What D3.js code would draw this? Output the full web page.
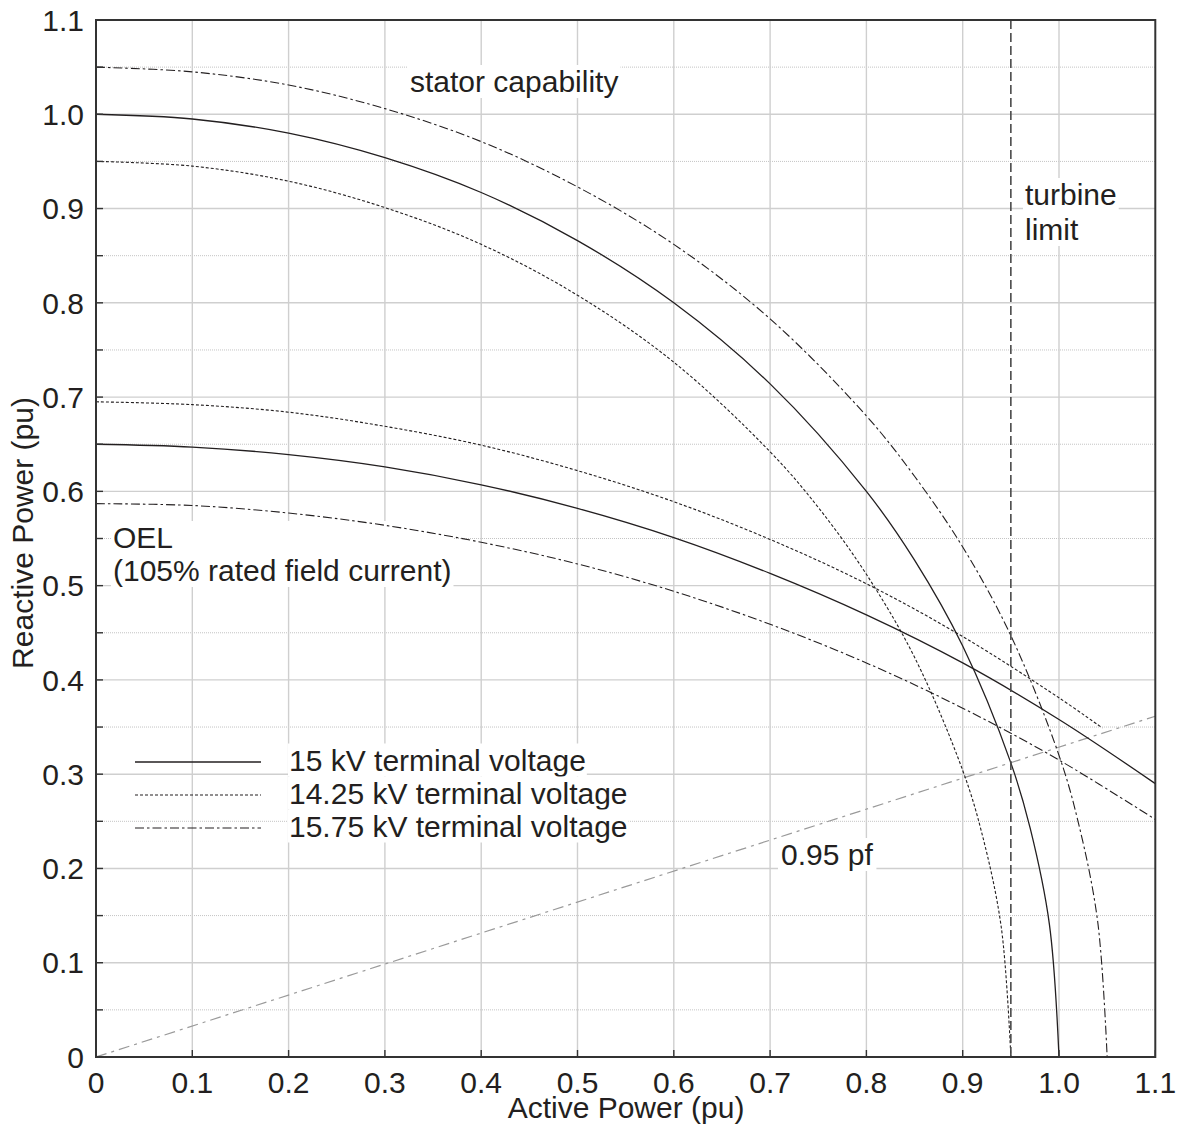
<!DOCTYPE html>
<html>
<head>
<meta charset="utf-8">
<script src="https://cdn.jsdelivr.net/npm/d3@7"></script>
<style>
  html, body { margin: 0; padding: 0; background: #fff; }
  svg { display: block; }
  text { font-family: "Liberation Sans", Arial, Helvetica, sans-serif; fill: #231f20; }
</style>
</head>
<body>
<svg id="chart" width="1181" height="1130"></svg>
<script>
// Generator capability curves (per-unit active vs reactive power)

// Stator current limit at 15 kV (active P, reactive Q)
const stator15 = [[0,1.0],[0.1,0.995],[0.2,0.980],[0.3,0.954],[0.4,0.917],[0.5,0.866],[0.6,0.800],[0.7,0.714],[0.8,0.600],[0.85,0.527],[0.9,0.436],[0.95,0.312],[0.97,0.243],[0.99,0.141],[1.0,0]];
// Stator current limit at 14.25 kV
const stator1425 = [[0,0.950],[0.1,0.945],[0.2,0.929],[0.3,0.901],[0.4,0.862],[0.5,0.808],[0.6,0.737],[0.7,0.642],[0.75,0.583],[0.8,0.512],[0.85,0.424],[0.9,0.304],[0.92,0.237],[0.94,0.138],[0.95,0]];
// Stator current limit at 15.75 kV
const stator1575 = [[0,1.050],[0.1,1.045],[0.2,1.031],[0.3,1.006],[0.4,0.971],[0.5,0.923],[0.6,0.862],[0.7,0.783],[0.8,0.680],[0.85,0.616],[0.9,0.541],[0.95,0.447],[1.0,0.320],[1.02,0.249],[1.04,0.145],[1.05,0]];

// Over-excitation limit (105% rated field current)
const oel15 = [[0,0.650],[0.1,0.647],[0.2,0.639],[0.3,0.626],[0.4,0.607],[0.5,0.582],[0.6,0.551],[0.7,0.513],[0.8,0.469],[0.9,0.418],[1.0,0.358],[1.1,0.290]];
const oel1425 = [[0,0.695],[0.1,0.692],[0.2,0.684],[0.3,0.669],[0.4,0.649],[0.5,0.622],[0.6,0.589],[0.7,0.549],[0.8,0.502],[0.9,0.446],[1.0,0.381],[1.045,0.349]];
const oel1575 = [[0,0.587],[0.1,0.585],[0.2,0.577],[0.3,0.564],[0.4,0.546],[0.5,0.523],[0.6,0.494],[0.7,0.459],[0.8,0.418],[0.9,0.370],[1.0,0.315],[1.1,0.252]];

// 0.95 power factor line and turbine limit
const pfLine = [[0,0],[1.1,0.3615]];
const turbineLimitP = 0.95;

// Axis ticks
const xTicks = [0,0.1,0.2,0.3,0.4,0.5,0.6,0.7,0.8,0.9,1.0,1.1];
const xTickLabels = ["0","0.1","0.2","0.3","0.4","0.5","0.6","0.7","0.8","0.9","1.0","1.1"];
const yTicks = [0,0.1,0.2,0.3,0.4,0.5,0.6,0.7,0.8,0.9,1.0,1.1];
const yTickLabels = ["0","0.1","0.2","0.3","0.4","0.5","0.6","0.7","0.8","0.9","1.0","1.1"];
const yMinorTicks = [0.05,0.15,0.25,0.35,0.45,0.55,0.65,0.75,0.85,0.95,1.05];

const legendItems = ["15 kV terminal voltage","14.25 kV terminal voltage","15.75 kV terminal voltage"];

const svg = d3.select("#chart");
const pLeft = 96, pRight = 1155.3, pTop = 20, pBottom = 1057;

const x = d3.scaleLinear().domain([0, 1.1]).range([pLeft, pRight]);
const y = d3.scaleLinear().domain([0, 1.1]).range([pBottom, pTop]);

const styles = {
  solid:   { stroke: "#231f20", width: 1.3, dash: null },
  dotted:  { stroke: "#231f20", width: 1.1, dash: "3,2" },
  dashdot: { stroke: "#231f20", width: 1.1, dash: "9,3,2.5,3" }
};

svg.append("defs").append("clipPath").attr("id", "plotClip")
  .append("rect").attr("x", pLeft).attr("y", pTop).attr("width", pRight - pLeft).attr("height", pBottom - pTop);

// Grid: minor dotted horizontal lines, then major solid lines
const grid = svg.append("g");
grid.selectAll("line.minor").data(yMinorTicks).join("line")
  .attr("x1", pLeft).attr("x2", pRight)
  .attr("y1", d => y(d)).attr("y2", d => y(d))
  .attr("stroke", "#c4c4c4").attr("stroke-width", 1).attr("stroke-dasharray", "1,1");
grid.selectAll("line.hmaj").data(yTicks.slice(1, -1)).join("line")
  .attr("x1", pLeft).attr("x2", pRight)
  .attr("y1", d => y(d)).attr("y2", d => y(d))
  .attr("stroke", "#cfcfcf").attr("stroke-width", 1.4);
grid.selectAll("line.vmaj").data(xTicks.slice(1, -1)).join("line")
  .attr("y1", pTop).attr("y2", pBottom)
  .attr("x1", d => x(d)).attr("x2", d => x(d))
  .attr("stroke", "#cfcfcf").attr("stroke-width", 1.4);

// Text labels sit on white boxes that mask the grid
function boxedText(g, lines, tx, baseline, lineGap, pad) {
  const grp = g.append("g");
  const rect = grp.append("rect").attr("fill", "#fff");
  const t = grp.append("text").attr("font-size", 30);
  lines.forEach((s, i) => {
    t.append("tspan").attr("x", tx).attr("y", baseline + i * lineGap).text(s);
  });
  const bb = t.node().getBBox();
  rect.attr("x", bb.x - pad).attr("y", bb.y).attr("width", bb.width + 2 * pad).attr("height", bb.height);
  return grp;
}

const line = d3.line().x(d => x(d[0])).y(d => y(d[1])).curve(d3.curveCatmullRom.alpha(0.5));

// 0.95 pf line (beneath the labels)
const under = svg.append("g").attr("clip-path", "url(#plotClip)");
under.append("path").datum(pfLine).attr("d", d3.line().x(d => x(d[0])).y(d => y(d[1])))
  .attr("fill", "none").attr("stroke", "#9a9a9a").attr("stroke-width", 1.2)
  .attr("stroke-dasharray", "11,5,3,5");

// Labels with white boxes
const labels = svg.append("g");
boxedText(labels, ["stator capability"], 410, 92, 0, 2);
boxedText(labels, ["turbine", "limit"], 1025, 205, 35, 2);
boxedText(labels, ["OEL", "(105% rated field current)"], 113, 548, 33, 2);
boxedText(labels, ["0.95 pf"], 781, 865, 0, 3);

// Capability curves on top of the labels
const plot = svg.append("g").attr("clip-path", "url(#plotClip)");
const curves = [
  [stator15, "solid"], [stator1425, "dotted"], [stator1575, "dashdot"],
  [oel15, "solid"], [oel1425, "dotted"], [oel1575, "dashdot"]
];
curves.forEach(([data, s]) => {
  const st = styles[s];
  plot.append("path").datum(data).attr("d", line)
    .attr("fill", "none").attr("stroke", st.stroke).attr("stroke-width", st.width)
    .attr("stroke-dasharray", st.dash);
});

// Turbine limit
plot.append("line")
  .attr("x1", x(turbineLimitP)).attr("x2", x(turbineLimitP))
  .attr("y1", pTop).attr("y2", pBottom)
  .attr("stroke", "#4a4a4a").attr("stroke-width", 1.6).attr("stroke-dasharray", "9,4");

// Legend
const legend = svg.append("g");
legendItems.forEach((label, i) => {
  const st = styles[["solid", "dotted", "dashdot"][i]];
  const ly = 762 + i * 33;
  legend.append("line").attr("x1", 135).attr("x2", 261).attr("y1", ly).attr("y2", ly)
    .attr("stroke", st.stroke).attr("stroke-width", st.width).attr("stroke-dasharray", st.dash);
  boxedText(legend, [label], 289, ly + 8.5, 0, 1);
});

// Axes and ticks
const axes = svg.append("g");
axes.selectAll("line.ytick").data(yTicks.concat(yMinorTicks)).join("line")
  .attr("x1", pLeft).attr("x2", pLeft + 7)
  .attr("y1", d => y(d)).attr("y2", d => y(d))
  .attr("stroke", "#333").attr("stroke-width", 1.4);
axes.selectAll("line.xtick").data(xTicks).join("line")
  .attr("x1", d => x(d)).attr("x2", d => x(d))
  .attr("y1", pBottom).attr("y2", pBottom - 7)
  .attr("stroke", "#333").attr("stroke-width", 1.4);
axes.append("rect").attr("x", pLeft).attr("y", pTop)
  .attr("width", pRight - pLeft).attr("height", pBottom - pTop)
  .attr("fill", "none").attr("stroke", "#333").attr("stroke-width", 2);

axes.selectAll("text.xl").data(xTicks).join("text")
  .attr("x", d => x(d)).attr("y", 1093)
  .attr("text-anchor", "middle").attr("font-size", 30)
  .text((d, i) => xTickLabels[i]);
axes.selectAll("text.yl").data(yTicks).join("text")
  .attr("x", 84).attr("y", d => y(d) + 10.7)
  .attr("text-anchor", "end").attr("font-size", 30)
  .text((d, i) => yTickLabels[i]);

svg.append("text").attr("x", 626).attr("y", 1118)
  .attr("text-anchor", "middle").attr("font-size", 30).text("Active Power (pu)");
svg.append("text").attr("transform", "translate(33,533) rotate(-90)")
  .attr("text-anchor", "middle").attr("font-size", 30).text("Reactive Power (pu)");
</script>
</body>
</html>
